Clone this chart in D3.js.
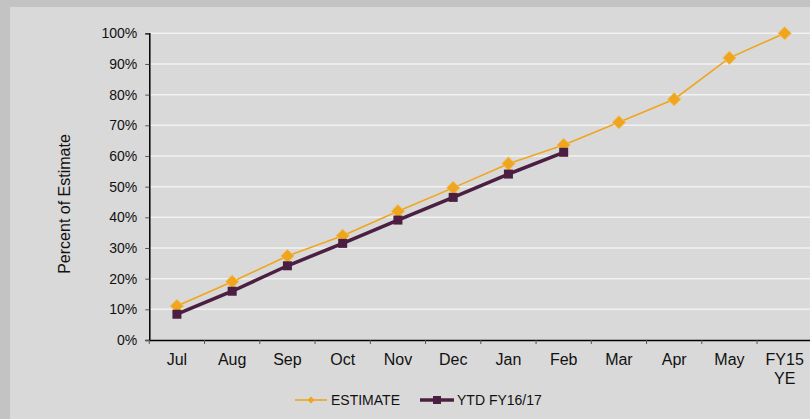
<!DOCTYPE html>
<html>
<head>
<meta charset="utf-8">
<script src="https://cdn.jsdelivr.net/npm/d3@7"></script>
<style>
  body { margin: 0; background: #c3c3c3; }
  svg { display: block; font-family: "Liberation Sans", Arial, sans-serif; }
</style>
</head>
<body>
<svg id="chart" width="810" height="419"></svg>
<script>
const months = ['Jul', 'Aug', 'Sep', 'Oct', 'Nov', 'Dec', 'Jan', 'Feb', 'Mar', 'Apr', 'May', 'FY15 YE']
const estimate = [11.1, 19.0, 27.4, 34.0, 42.0, 49.6, 57.5, 63.6, 71.0, 78.5, 92.0, 100]
const ytd = [8.4, 15.9, 24.2, 31.5, 39.1, 46.5, 54.1, 61.2]
const yTicks = [0, 10, 20, 30, 40, 50, 60, 70, 80, 90, 100]

const svg = d3.select('#chart')

// panel behind the chart
svg.append('rect')
  .attr('x', 10).attr('y', 7)
  .attr('width', 800).attr('height', 412)
  .attr('fill', '#d9d9d9')

const plotLeft = 149.3
const plotRight = 812.3
const plotTop = 33.3
const plotBottom = 340

const x = d3.scaleBand().domain(months).range([plotLeft, plotRight])
const y = d3.scaleLinear().domain([0, 100]).range([plotBottom, plotTop])

// gridlines
svg.append('g')
  .selectAll('line')
  .data(yTicks.filter(d => d > 0))
  .join('line')
  .attr('x1', plotLeft).attr('x2', 810)
  .attr('y1', d => y(d)).attr('y2', d => y(d))
  .attr('stroke', '#f2f2f2')
  .attr('stroke-width', 1.5)

// y axis
const yAxis = svg.append('g')
  .attr('transform', 'translate(' + plotLeft + ',0)')
  .call(d3.axisLeft(y).tickValues(yTicks).tickSize(4).tickPadding(8).tickFormat(d => d + '%'))
yAxis.select('.domain').attr('stroke', '#000').attr('stroke-width', 1.5)
yAxis.selectAll('.tick line').attr('stroke', '#555')
yAxis.selectAll('.tick text').attr('font-size', 14).attr('fill', '#111')
  .attr('font-family', '"Liberation Sans", Arial, sans-serif')

// x axis
const xAxis = svg.append('g')
  .attr('transform', 'translate(0,' + plotBottom + ')')
  .call(d3.axisBottom(x).tickSize(0).tickFormat(''))
xAxis.select('.domain').attr('stroke', '#000').attr('stroke-width', 1.5)

svg.append('g')
  .selectAll('line')
  .data(months)
  .join('line')
  .attr('x1', d => x(d)).attr('x2', d => x(d))
  .attr('y1', plotBottom).attr('y2', plotBottom + 4)
  .attr('stroke', '#555')

svg.append('g')
  .selectAll('text')
  .data(months)
  .join('text')
  .attr('x', d => x(d) + x.bandwidth() / 2)
  .attr('y', 365)
  .attr('text-anchor', 'middle')
  .attr('font-size', 16)
  .attr('fill', '#111')
  .each(function (d) {
    const parts = d.split(' ')
    d3.select(this).selectAll('tspan')
      .data(parts)
      .join('tspan')
      .attr('x', x(d) + x.bandwidth() / 2)
      .attr('dy', (p, i) => i === 0 ? 0 : 18.5)
      .text(p => p)
  })

// y title
svg.append('text')
  .attr('transform', 'translate(70,204) rotate(-90)')
  .attr('text-anchor', 'middle')
  .attr('font-size', 16)
  .attr('fill', '#111')
  .text('Percent of Estimate')

const cx = (d, i) => x(months[i]) + x.bandwidth() / 2

const line = d3.line()
  .x((d, i) => cx(d, i))
  .y(d => y(d))

const orange = '#f0a51e'
const purple = '#4b1f42'

// estimate
svg.append('path')
  .datum(estimate)
  .attr('d', line)
  .attr('fill', 'none')
  .attr('stroke', orange)
  .attr('stroke-width', 1.6)

svg.append('g')
  .selectAll('path')
  .data(estimate)
  .join('path')
  .attr('d', d3.symbol(d3.symbolDiamond2, 110))
  .attr('transform', (d, i) => 'translate(' + cx(d, i) + ',' + y(d) + ')')
  .attr('fill', orange)
  .attr('stroke', '#eec05a')
  .attr('stroke-width', 1)

// ytd
svg.append('path')
  .datum(ytd)
  .attr('d', line)
  .attr('fill', 'none')
  .attr('stroke', purple)
  .attr('stroke-width', 3.5)

svg.append('g')
  .selectAll('rect')
  .data(ytd)
  .join('rect')
  .attr('x', (d, i) => cx(d, i) - 4.5)
  .attr('y', d => y(d) - 4.5)
  .attr('width', 9).attr('height', 9)
  .attr('fill', purple)

// legend
const legend = svg.append('g')
legend.append('line')
  .attr('x1', 295).attr('x2', 327).attr('y1', 400).attr('y2', 400)
  .attr('stroke', orange).attr('stroke-width', 1.6)
legend.append('path')
  .attr('d', d3.symbol(d3.symbolDiamond2, 30))
  .attr('transform', 'translate(311,400)')
  .attr('fill', orange)
legend.append('text')
  .attr('x', 331).attr('y', 405)
  .attr('font-size', 14).attr('fill', '#111')
  .text('ESTIMATE')

legend.append('line')
  .attr('x1', 420).attr('x2', 454).attr('y1', 400).attr('y2', 400)
  .attr('stroke', purple).attr('stroke-width', 3.5)
legend.append('rect')
  .attr('x', 433).attr('y', 396).attr('width', 8).attr('height', 8)
  .attr('fill', purple)
legend.append('text')
  .attr('x', 457).attr('y', 405)
  .attr('font-size', 14).attr('fill', '#111')
  .text('YTD FY16/17')
</script>
</body>
</html>
